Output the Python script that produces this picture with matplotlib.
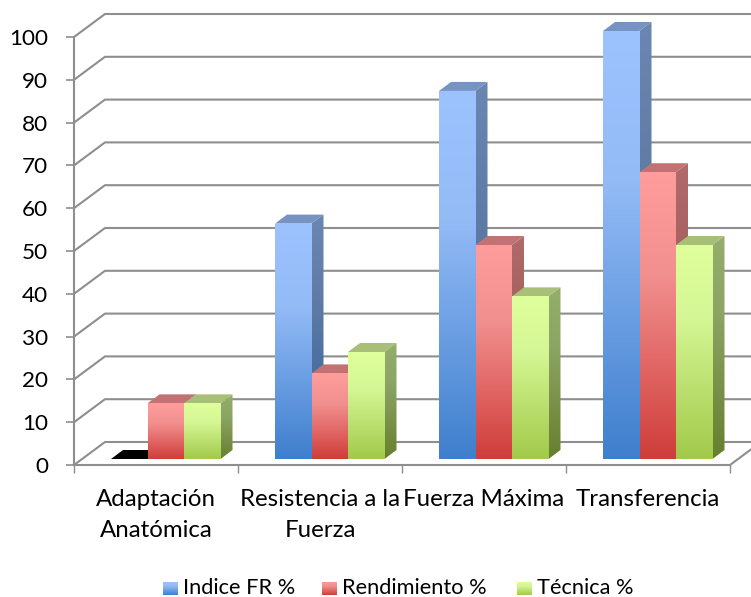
import numpy as np
import matplotlib.pyplot as plt
from matplotlib.colors import LinearSegmentedColormap
from matplotlib.patches import Polygon

plt.rcParams['font.family'] = ['Lato', 'DejaVu Sans']

categories = ['Adaptación\nAnatómica', 'Resistencia a la\nFuerza', 'Fuerza Máxima', 'Transferencia']
series_names = ['Indice FR %', 'Rendimiento %', 'Técnica %']
indice = [0, 55, 86, 100]
rendimiento = [13, 20, 50, 67]
tecnica = [13, 25, 38, 50]
yticks = list(range(0, 101, 10))

front_cols = [['#9DC3FF', '#93BBF6', '#3F7FCD'],
              ['#FF9C9C', '#F29090', '#CF3D3A'],
              ['#DFFF9C', '#D5F694', '#A2C94A']]
side_cols = [['#6A86B2', '#5F7CA6', '#2F5E98'],
             ['#B06A6A', '#A66060', '#962C2A'],
             ['#96AE6C', '#8CA464', '#667F2E']]
top_cols = ['#7594C4', '#C27272', '#A8BF78']
grid_col = '#8E8E8E'

# wall depth and bar geometry, in category / value units
WALL_DX = 31 / 164
WALL_DY = 23 / 4.28
BAR_W = 36.5 / 164
BAR_DX = 12 / 164
BAR_DY = 9 / 4.28
BAR_X0 = 37 / 164
BAR_Y0 = 6 / 4.28

fig = plt.figure(figsize=(7.51, 5.97), dpi=100)
W, H = 751, 597
ax = fig.add_axes([74 / W, 1 - 465 / H, 656 / W, 428 / H])
ax.patch.set_alpha(0)


def gradient(cols):
    cmap = LinearSegmentedColormap.from_list('g', [(0, cols[0]), (0.35, cols[1]), (1, cols[2])])
    return cmap, np.linspace(0, 1, 256).reshape(-1, 1)


def shaded(poly, box, cols, z):
    cmap, g = gradient(cols)
    im = ax.imshow(g, cmap=cmap, extent=box, origin='upper', aspect='auto',
                   interpolation='bilinear', zorder=z)
    im.set_clip_box(fig.bbox)
    im.set_clip_path(Polygon(poly, transform=ax.transData))


def bar3d(x, v, s, z):
    y0 = BAR_Y0
    y1 = BAR_Y0 + v
    x1 = x + BAR_W
    top = 'black' if v == 0 else top_cols[s]
    ax.add_patch(Polygon([(x, y1), (x1, y1), (x1 + BAR_DX, y1 + BAR_DY), (x + BAR_DX, y1 + BAR_DY)],
                         fc=top, ec='none', clip_on=False, zorder=z))
    if v == 0:
        return
    side = [(x1, y0), (x1 + BAR_DX, y0 + BAR_DY), (x1 + BAR_DX, y1 + BAR_DY), (x1, y1)]
    shaded(side, (x1, x1 + BAR_DX, y0, y1 + BAR_DY), side_cols[s], z)
    front = [(x, y0), (x1, y0), (x1, y1), (x, y1)]
    shaded(front, (x, x1, y0, y1), front_cols[s], z)


# walls: diagonal from the axis back, then along the rear plane
for v in yticks:
    ax.plot([0, WALL_DX, 4 + WALL_DX], [v, v + WALL_DY, v + WALL_DY], color=grid_col, lw=1.5,
            clip_on=False, zorder=1, solid_capstyle='butt')
ax.plot([4, 4 + WALL_DX], [0, WALL_DY], color=grid_col, lw=1.5, clip_on=False, zorder=1)

data = [indice, rendimiento, tecnica]
z = 2
for i in range(len(categories)):
    for s in range(3):
        bar3d(i + BAR_X0 + s * BAR_W, data[s][i], s, z)
        z += 1

ax.set_xlim(0, 4)
ax.set_ylim(0, 100)
ax.set_yticks(yticks)
ax.set_xticks(range(5))
ax.set_xticklabels([])
ax.set_xticks(np.arange(4) + 0.5, categories, minor=True)
ax.tick_params(axis='x', which='major', length=6, width=1, color=grid_col)
ax.tick_params(axis='x', which='minor', length=0, pad=17.5, labelsize=17.3, labelcolor='black')
ax.tick_params(axis='y', length=5.5, width=1.2, color=grid_col, pad=13, labelsize=16.2)
for lab in ax.get_xticklabels(minor=True):
    lab.set_linespacing(1.56)
for name in ['top', 'right']:
    ax.spines[name].set_visible(False)
for name in ['left', 'bottom']:
    ax.spines[name].set_color(grid_col)
    ax.spines[name].set_linewidth(1.5)

# legend swatches and labels
for s, (sx, tx) in enumerate([(163, 183), (322, 342), (517, 537)]):
    lax = fig.add_axes([sx / W, 1 - 595 / H, 14.5 / W, 13.5 / H])
    cmap, g = gradient(front_cols[s])
    lax.imshow(g, cmap=cmap, aspect='auto', interpolation='bilinear')
    lax.axis('off')
    fig.text(tx / W, 1 - 588 / H, series_names[s], fontsize=15.7, va='center', ha='left', color='black')

plt.savefig('out.png', dpi=100)
